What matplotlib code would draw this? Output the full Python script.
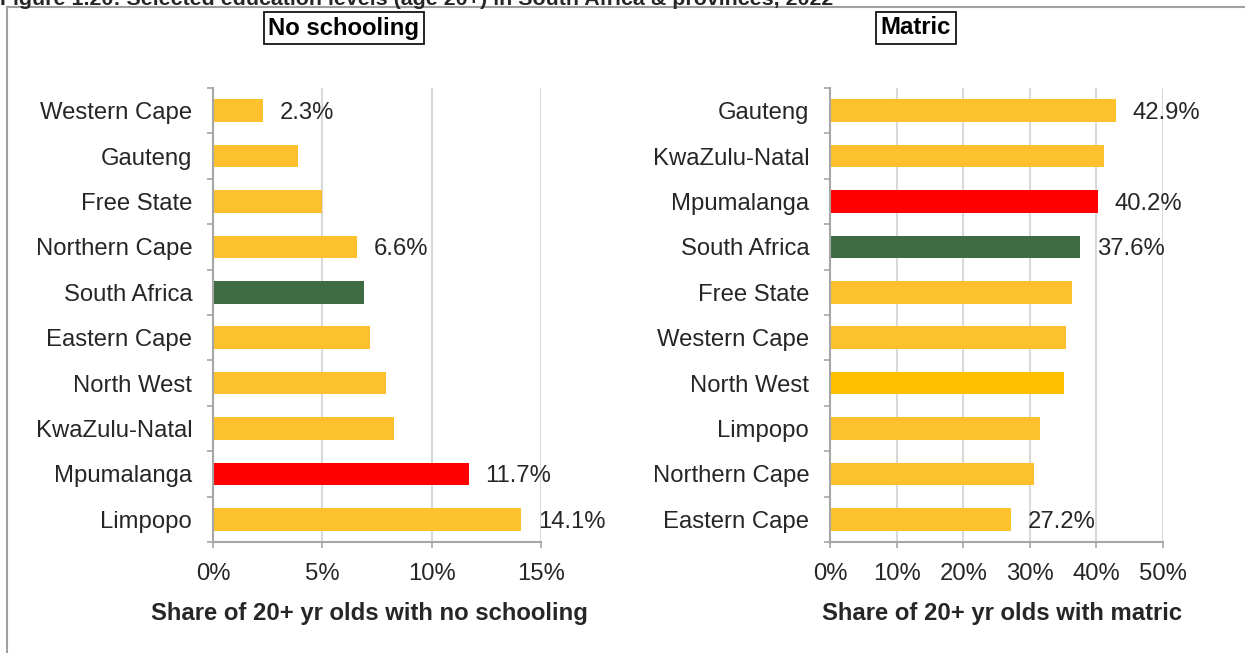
import matplotlib.pyplot as plt
from matplotlib.lines import Line2D
from matplotlib.ticker import FuncFormatter

plt.rcParams['font.family'] = ['Liberation Sans', 'DejaVu Sans']

TITLE = 'Figure 1.20: Selected education levels (age 20+) in South Africa & provinces, 2022'

# no schooling panel (top to bottom)
ns_names = ['Western Cape', 'Gauteng', 'Free State', 'Northern Cape', 'South Africa',
            'Eastern Cape', 'North West', 'KwaZulu-Natal', 'Mpumalanga', 'Limpopo']
ns_values = [2.3, 3.9, 5.0, 6.6, 6.9, 7.2, 7.9, 8.3, 11.7, 14.1]
ns_labelled = ['Western Cape', 'Northern Cape', 'Mpumalanga', 'Limpopo']

# matric panel (top to bottom)
mt_names = ['Gauteng', 'KwaZulu-Natal', 'Mpumalanga', 'South Africa', 'Free State',
            'Western Cape', 'North West', 'Limpopo', 'Northern Cape', 'Eastern Cape']
mt_values = [42.9, 41.2, 40.2, 37.6, 36.4, 35.4, 35.2, 31.5, 30.6, 27.2]
mt_labelled = ['Gauteng', 'Mpumalanga', 'South Africa', 'Eastern Cape']

YELLOW = '#FDC12E'
RED = '#FF0000'
GREEN = '#3E6B42'
TXT = '#262626'
GRID = '#D9D9D9'
SPINE = '#A6A6A6'
FS = 17.2


def bar_color(name, panel):
    if name == 'South Africa':
        return GREEN
    if name == 'Mpumalanga':
        return RED
    if panel == 'mt' and name == 'North West':
        return '#FFC000'
    return YELLOW


def draw_panel(ax, names, values, labelled, xmax, xstep, xlabel, label_x, panel):
    n = len(names)
    ypos = list(range(n))
    colors = [bar_color(nm, panel) for nm in names]
    ax.barh(ypos, values, height=0.5, color=colors, zorder=3)
    ax.set_ylim(n - 0.5, -0.5)
    ax.set_xlim(0, xmax)
    ax.set_yticks(ypos)
    ax.set_yticklabels(names)
    ax.set_yticks([i - 0.5 for i in range(n + 1)], minor=True)
    ax.set_xticks(list(range(0, xmax + 1, xstep)))
    ax.xaxis.set_major_formatter(FuncFormatter(lambda v, p: f'{v:.0f}%'))
    ax.tick_params(axis='y', which='major', length=0, pad=15, labelsize=FS, labelcolor=TXT)
    ax.tick_params(axis='y', which='minor', length=4, width=1.2, color=SPINE, direction='out')
    ax.tick_params(axis='x', length=4, width=1.2, color=SPINE, pad=11, labelsize=FS, labelcolor=TXT)
    ax.grid(axis='x', color=GRID, linewidth=1.5, zorder=0)
    for s in ['top', 'right']:
        ax.spines[s].set_visible(False)
    for s in ['left', 'bottom']:
        ax.spines[s].set_color(SPINE)
        ax.spines[s].set_linewidth(1.5)
        ax.spines[s].set_zorder(4)
    ax.set_xlabel(xlabel, fontsize=FS, fontweight='bold', color=TXT)
    ax.xaxis.set_label_coords(label_x, -0.133)
    off = xmax * 0.05
    for y, nm, v in zip(ypos, names, values):
        if nm in labelled:
            ax.text(v + off, y, f'{v:.1f}%', va='center_baseline', ha='left',
                    fontsize=FS, color=TXT)


fig = plt.figure(figsize=(12.45, 6.53), dpi=100)
W, H = 1245, 653

ax1 = fig.add_axes([213 / W, 111 / H, 328 / W, 454 / H])
draw_panel(ax1, ns_names, ns_values, ns_labelled, 15, 5,
           'Share of 20+ yr olds with no schooling', 0.476, 'ns')

ax2 = fig.add_axes([830 / W, 111 / H, 333 / W, 454 / H])
draw_panel(ax2, mt_names, mt_values, mt_labelled, 50, 10,
           'Share of 20+ yr olds with matric', 0.517, 'mt')

# panel headings in boxes
box = dict(boxstyle='square,pad=0.2', facecolor='white', edgecolor='#000000', linewidth=1.2)
fig.text(344 / W, 1 - 28 / H, 'No schooling', ha='center', va='center', fontsize=FS,
         fontweight='bold', color='black', bbox=box)
fig.text(916 / W, 1 - 28 / H, 'Matric', ha='center', va='center', fontsize=FS,
         fontweight='bold', color='black', bbox=box)

# outer frame (top and left edges visible)
fig.add_artist(Line2D([7 / W, 1], [1 - 7 / H, 1 - 7 / H], transform=fig.transFigure,
                      color='#A0A0A0', linewidth=1.5))
fig.add_artist(Line2D([7 / W, 7 / W], [0, 1 - 7 / H], transform=fig.transFigure,
                      color='#A0A0A0', linewidth=1.5))

# figure title, cut off at the very top as in the source
fig.text(0, 1 - 5 / H, TITLE, ha='left', va='baseline', fontsize=15.4,
         fontweight='bold', color=TXT)

fig.savefig('out.png', dpi=100, facecolor='white')
